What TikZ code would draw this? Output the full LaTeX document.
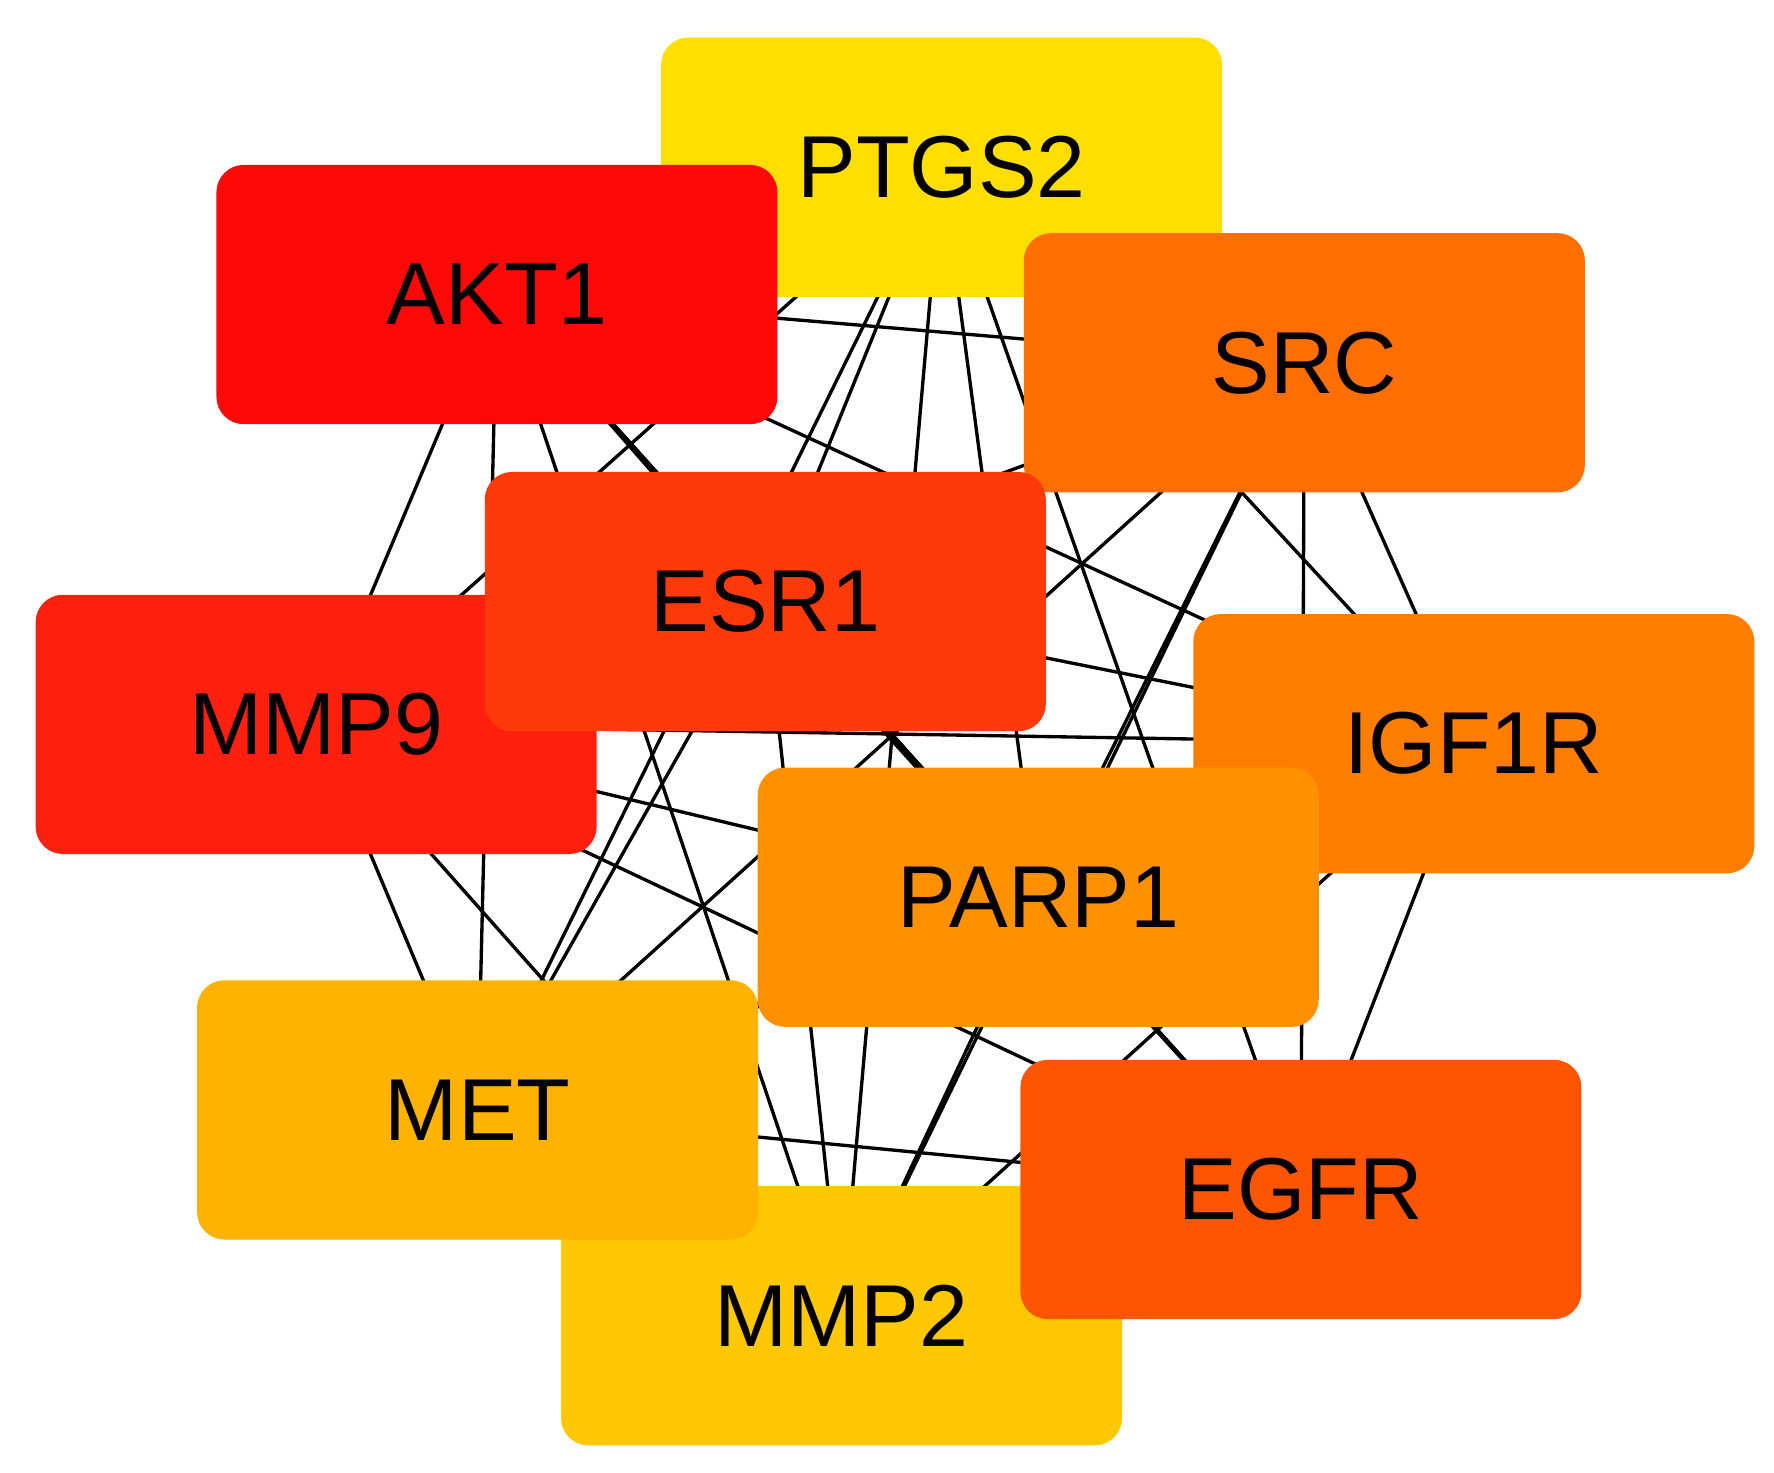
\documentclass[tikz,border=0pt]{standalone}
\usepackage{fontspec}
\setmainfont{Liberation Sans}
\definecolor{cPTGS}{RGB}{255,222,0}
\definecolor{cAKT}{RGB}{255,8,8}
\definecolor{cSRC}{RGB}{255,110,0}
\definecolor{cESR}{RGB}{255,58,8}
\definecolor{cMMPn}{RGB}{255,32,16}
\definecolor{cIGF}{RGB}{255,125,0}
\definecolor{cPARP}{RGB}{255,145,0}
\definecolor{cMET}{RGB}{255,178,0}
\definecolor{cEGFR}{RGB}{255,85,0}
\definecolor{cMMPt}{RGB}{255,200,0}
\tikzset{
  gene/.style={draw=none, rounded corners=18pt, minimum width=370pt, minimum height=171pt,
    inner sep=0pt, font=\fontsize{58}{60}\selectfont},
  link/.style={line width=2.2pt, black}
}
\begin{document}
\begin{tikzpicture}[x=0.75pt,y=0.75pt,yscale=-1,xscale=1]
\useasboundingbox (0,0) rectangle (1560,1295);

%node anchors
\coordinate (pt) at (828,147);
\coordinate (ak) at (437,259);
\coordinate (sr) at (1147,319);
\coordinate (es) at (673,529);
\coordinate (m9) at (278,637);
\coordinate (ig) at (1296,654);
\coordinate (pa) at (913,789);
\coordinate (me) at (420,976);
\coordinate (eg) at (1144,1046);
\coordinate (m2) at (740,1157);

%edges
\foreach \a/\rest in {pt/{ak,sr,es,m9,ig,pa,me,eg,m2}, ak/{sr,es,m9,ig,pa,me,eg,m2},
  sr/{es,m9,ig,pa,me,eg,m2}, es/{m9,ig,pa,me,eg,m2}, m9/{ig,pa,me,eg,m2},
  ig/{pa,me,eg,m2}, pa/{me,eg,m2}, me/{eg,m2}, eg/{m2}}
  \foreach \b in \rest
    \draw [link] (\a) -- (\b);

%genes
\node [gene, fill=cPTGS] (PTGS2) at (pt) {PTGS2};
\node [gene, fill=cSRC] (SRC) at (sr) {SRC};
\node [gene, fill=cAKT] (AKT1) at (ak) {AKT1};
\node [gene, fill=cIGF] (IGF1R) at (ig) {IGF1R};
\node [gene, fill=cMMPn] (MMP9) at (m9) {MMP9};
\node [gene, fill=cESR] (ESR1) at (es) {ESR1};
\node [gene, fill=cPARP] (PARP1) at (pa) {PARP1};
\node [gene, fill=cMMPt] (MMP2) at (m2) {MMP2};
\node [gene, fill=cMET] (MET) at (me) {MET};
\node [gene, fill=cEGFR] (EGFR) at (eg) {EGFR};

\end{tikzpicture}
\end{document}
